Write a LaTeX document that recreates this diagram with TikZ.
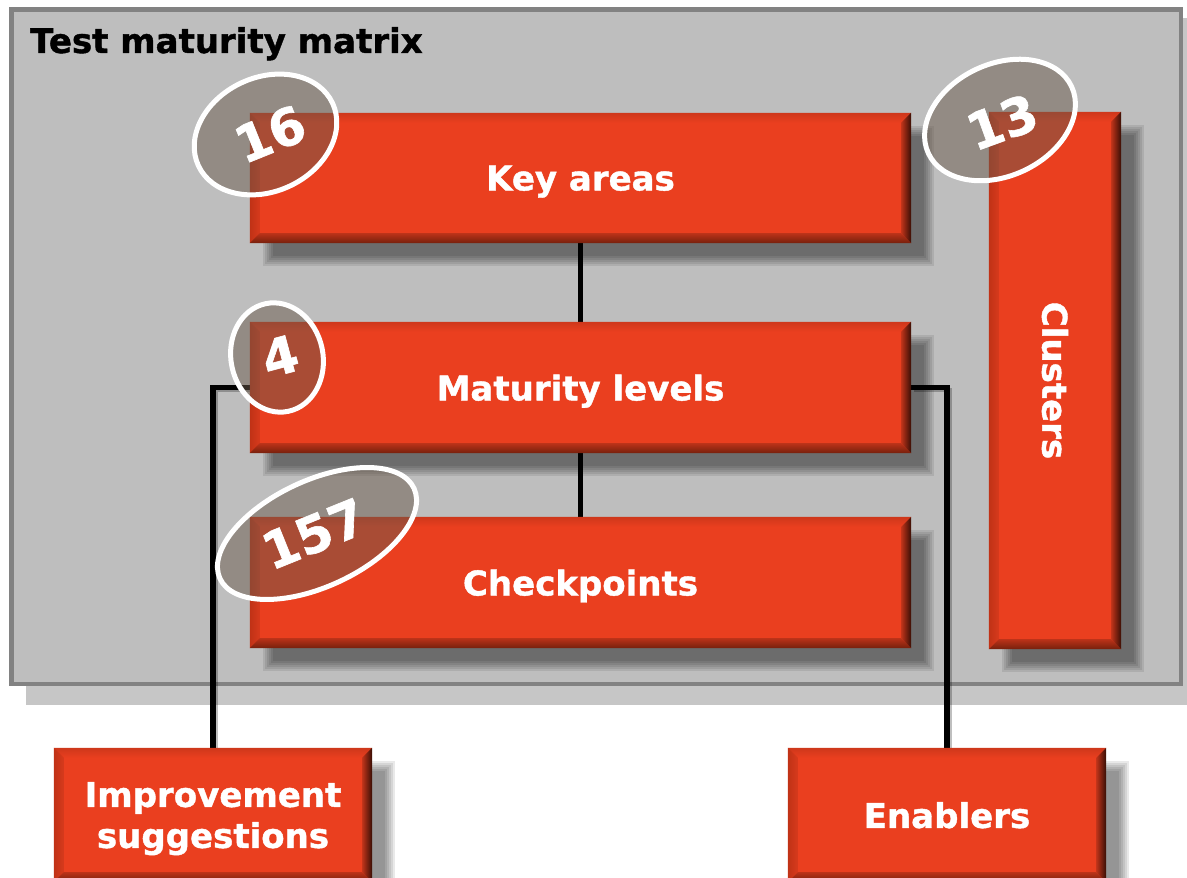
\documentclass[tikz,border=0pt]{standalone}
\usepackage{fontspec}
\setmainfont{DejaVu Sans}
\newfontfamily\heavyfont{DejaVu Sans Bold}[FakeBold=1.2]
\usetikzlibrary{shapes.geometric,calc}

\definecolor{boxred}{RGB}{234,63,31}
\definecolor{redlight}{RGB}{255,112,80}
\definecolor{redleft}{RGB}{192,50,22}
\definecolor{reddark}{RGB}{118,32,12}
\definecolor{redshade}{RGB}{55,14,5}
\definecolor{framefill}{RGB}{190,190,190}
\definecolor{frameline}{RGB}{130,130,130}
\definecolor{frameshadow}{RGB}{198,198,198}
\definecolor{ovalfill}{RGB}{106,90,76}

\newcommand\boxfont{\heavyfont\fontsize{34}{41}\selectfont}
\newcommand\numfont{\heavyfont\fontsize{51}{51}\selectfont}

\pgfdeclarelayer{framelayer}
\pgfdeclarelayer{shadowlayer}
\pgfdeclarelayer{linklayer}
\pgfsetlayers{framelayer,shadowlayer,linklayer,main}

\tikzset{
  redbox/.style={rectangle, fill=boxred, inner sep=0pt, text=white,
    font=\boxfont, align=center, text depth=0pt},
  boxlabel/.style={text=white, font=\boxfont, inner sep=0pt},
  numoval/.style={ellipse, draw=white, line width=5pt, fill=ovalfill,
    fill opacity=0.5, inner sep=0pt},
  numtext/.style={text=white, font=\numfont, inner sep=0pt},
  link/.style={line width=5.5pt, black},
  linkshadow/.style={line width=4pt, black, opacity=0.25},
}

% soft drop shadow below and right of a node
\newcommand\dropshadow[1]{%
  \foreach \e in {-5,-3,-1,1,3,5}{%
    \fill[black,opacity=0.085]
      ([shift={(18+\e,-18-\e)}]#1.north west) rectangle
      ([shift={(18-\e,-18+\e)}]#1.south east);}}

% bevelled edges of a red button
\newcommand\bevel[1]{%
  \shade[top color=boxred!88!black, middle color=redlight, bottom color=boxred]
    (#1.north west) -- (#1.north east) -- ($(#1.north east)+(-10,-10)$)
    -- ($(#1.north west)+(10,-10)$) -- cycle;
  \shade[left color=redleft, right color=boxred!92!black]
    (#1.north west) -- ($(#1.north west)+(10,-10)$)
    -- ($(#1.south west)+(10,10)$) -- (#1.south west) -- cycle;
  \shade[top color=boxred!80!black, bottom color=reddark]
    (#1.south west) -- ($(#1.south west)+(10,10)$)
    -- ($(#1.south east)+(-10,10)$) -- (#1.south east) -- cycle;
  \shade[left color=boxred!82!black, right color=redshade]
    (#1.north east) -- (#1.south east) -- ($(#1.south east)+(-10,10)$)
    -- ($(#1.north east)+(-10,-10)$) -- cycle;}

\begin{document}
\begin{tikzpicture}[x=1pt,y=1pt]
  \useasboundingbox (0,0) rectangle (1187,878);
  \clip (0,0) rectangle (1187,878);

  % the matrix frame and its flat shadow
  \begin{pgfonlayer}{framelayer}
    \fill[frameshadow] (26,173) rectangle (1200,860);
    \draw[frameline, fill=framefill, line width=4.5pt]
      (11.5,868.5) rectangle (1181,194);
  \end{pgfonlayer}

  \node[boxlabel, text=black, anchor=base west] (title) at (30,825)
    {Test maturity matrix};

  % red buttons
  \node[redbox, minimum width=661pt, minimum height=130pt] (keyareas)
    at (580.5,700) {Key areas};
  \node[redbox, minimum width=661pt, minimum height=131pt] (maturity)
    at (580.5,490.5) {Maturity levels};
  \node[redbox, minimum width=661pt, minimum height=131pt] (checkpoints)
    at (580.5,295.5) {Checkpoints};
  \node[redbox, minimum width=132pt, minimum height=537pt] (clusters)
    at (1055,497.5) {};
  \node[redbox, minimum width=318pt, minimum height=134pt] (improvement)
    at (213,63) {Improvement\\suggestions};
  \node[redbox, minimum width=318pt, minimum height=134pt] (enablers)
    at (947,63) {Enablers};

  \foreach \b in {keyareas,maturity,checkpoints,clusters,improvement,enablers}{%
    \begin{pgfonlayer}{shadowlayer}
      \dropshadow{\b}
    \end{pgfonlayer}
    \bevel{\b}
  }

  \node[boxlabel, rotate=-90] (clusterslabel) at (1055,497.5) {Clusters};

  % connectors
  \begin{pgfonlayer}{linklayer}
    \draw[linkshadow, transform canvas={shift={(3,-3)}}]
      (maturity.west) -| (improvement.north);
    \draw[linkshadow, transform canvas={shift={(3,-3)}}]
      (maturity.east) -| (enablers.north);
    \draw[link] (keyareas.south) -- (maturity.north);
    \draw[link] (maturity.south) -- (checkpoints.north);
    \draw[link] (maturity.west) -| (improvement.north);
    \draw[link] (maturity.east) -| (enablers.north);
  \end{pgfonlayer}

  % count badges
  \node[numoval, minimum width=148pt, minimum height=114pt, rotate=25]
    (oval16) at (265.5,743.5) {};
  \node[numtext, rotate=22] (num16) at (270,744) {16};
  \node[numoval, minimum width=158pt, minimum height=112pt, rotate=25]
    (oval13) at (1000,758) {};
  \node[numtext, rotate=20] (num13) at (1002,756) {13};
  \node[numoval, minimum width=92pt, minimum height=110pt, rotate=12]
    (oval4) at (277,520.5) {};
  \node[numtext, rotate=15] (num4) at (280,522) {4};
  \node[numoval, minimum width=214pt, minimum height=106pt, rotate=25]
    (oval157) at (317,344.5) {};
  \node[numtext, rotate=22] (num157) at (314,344) {157};
\end{tikzpicture}
\end{document}
